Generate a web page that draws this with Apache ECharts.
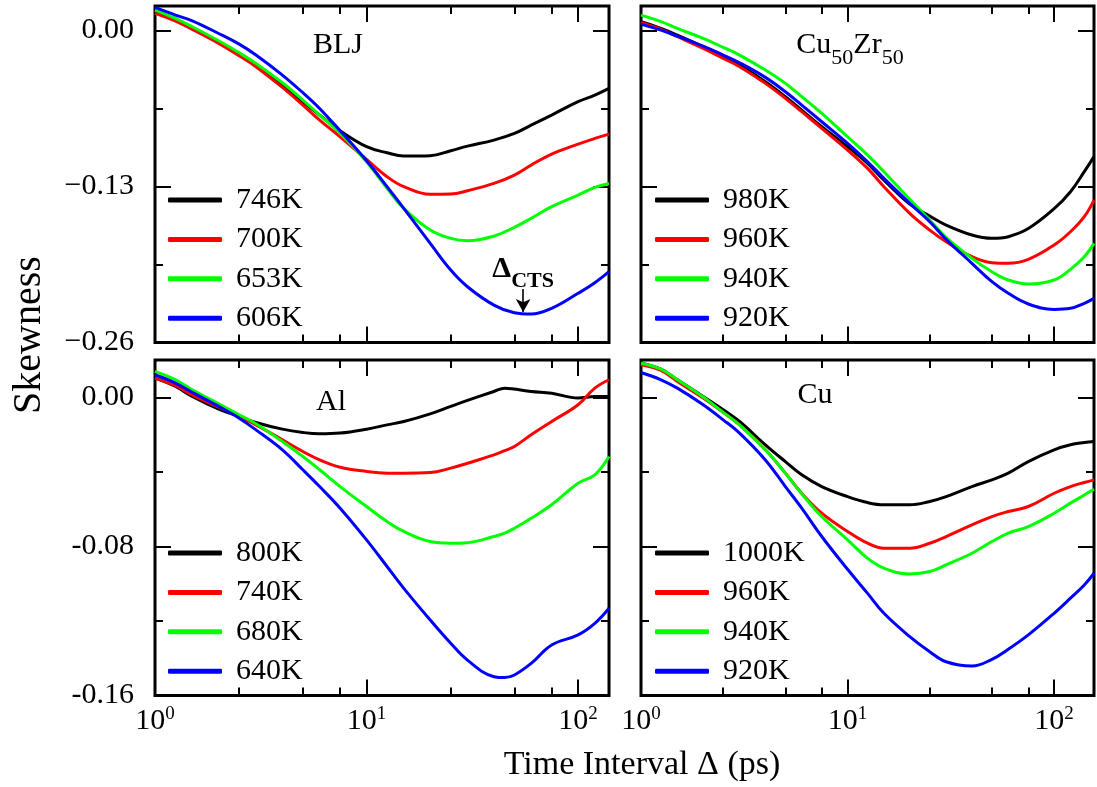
<!DOCTYPE html>
<html><head><meta charset="utf-8">
<script src="https://cdn.jsdelivr.net/npm/echarts@6/dist/echarts.min.js"></script>
<style>html,body{margin:0;padding:0;background:#fff}#c{width:1097px;height:787px}</style>
</head><body><div id="c"></div>
<script>
// ---------------- data ----------------
const tBLJ = [1,1.25,1.5,2,2.5,3,4,5,6,7.5,10,12.5,15,20,25,30,40,50,60,75,100,120,140];
const blj746 = [0.0154,0.0088,0.0026,-0.0093,-0.0196,-0.0288,-0.0454,-0.0593,-0.0704,-0.0835,-0.0968,-0.1018,-0.1046,-0.1043,-0.1001,-0.0963,-0.0913,-0.0857,-0.0788,-0.0704,-0.0593,-0.0538,-0.0482];
const blj700 = [0.0143,0.0079,0.0010,-0.0107,-0.0210,-0.0301,-0.0474,-0.0621,-0.0746,-0.0885,-0.1074,-0.1218,-0.1301,-0.1365,-0.1363,-0.1335,-0.1274,-0.1204,-0.1121,-0.1029,-0.0946,-0.0899,-0.0863];
const blj653 = [0.0171,0.0101,0.0032,-0.0085,-0.0185,-0.0274,-0.0435,-0.0579,-0.0704,-0.0857,-0.1093,-0.1315,-0.1482,-0.1663,-0.1732,-0.1752,-0.1713,-0.1640,-0.1565,-0.1468,-0.1371,-0.1307,-0.1274];
const blj606 = [0.0193,0.0129,0.0082,-0.0024,-0.0113,-0.0204,-0.0371,-0.0518,-0.0649,-0.0835,-0.1085,-0.1301,-0.1482,-0.1774,-0.1996,-0.2135,-0.2288,-0.2352,-0.2363,-0.2315,-0.2190,-0.2102,-0.2010];

const tCZ = [1,1.25,1.5,2,2.5,3,4,5,6,7.5,10,12.5,15,20,25,30,40,50,60,75,100,120,140,156];
const cz980 = [0.0074,0.0018,-0.0038,-0.0135,-0.0218,-0.0288,-0.0426,-0.0551,-0.0663,-0.0801,-0.0968,-0.1107,-0.1246,-0.1446,-0.1546,-0.1621,-0.1704,-0.1732,-0.1718,-0.1650,-0.1485,-0.1343,-0.1176,-0.1051];
const cz960 = [0.0065,0.0010,-0.0051,-0.0149,-0.0232,-0.0301,-0.0440,-0.0565,-0.0676,-0.0815,-0.0996,-0.1149,-0.1301,-0.1524,-0.1663,-0.1760,-0.1885,-0.1935,-0.1940,-0.1907,-0.1788,-0.1677,-0.1551,-0.1413];
const cz940 = [0.0129,0.0074,0.0018,-0.0065,-0.0140,-0.0204,-0.0329,-0.0440,-0.0551,-0.0690,-0.0885,-0.1038,-0.1176,-0.1407,-0.1579,-0.1724,-0.1899,-0.2010,-0.2079,-0.2113,-0.2079,-0.1990,-0.1885,-0.1774];
const cz920 = [0.0054,0.0004,-0.0046,-0.0129,-0.0204,-0.0268,-0.0390,-0.0510,-0.0621,-0.0760,-0.0940,-0.1093,-0.1232,-0.1440,-0.1593,-0.1740,-0.1940,-0.2093,-0.2190,-0.2279,-0.2324,-0.2315,-0.2273,-0.2232];

const tAl = [1,1.25,1.5,2,2.5,3,4,5,6,7.5,10,12.5,15,20,25,30,40,45,50,60,75,100,120,140];
const al800 = [0.0103,0.0058,0.0004,-0.0064,-0.0103,-0.0135,-0.0171,-0.0189,-0.0196,-0.0192,-0.0171,-0.0148,-0.0130,-0.0089,-0.0049,-0.0017,0.0031,0.0049,0.0044,0.0031,0.0022,-0.0004,0.0004,0.0004];
const al740 = [0.0103,0.0062,0.0013,-0.0053,-0.0103,-0.0148,-0.0228,-0.0291,-0.0336,-0.0375,-0.0398,-0.0407,-0.0407,-0.0404,-0.0380,-0.0354,-0.0309,-0.0286,-0.0264,-0.0201,-0.0130,-0.0040,0.0049,0.0094];
const al680 = [0.0139,0.0094,0.0040,-0.0035,-0.0094,-0.0142,-0.0237,-0.0318,-0.0389,-0.0479,-0.0586,-0.0667,-0.0720,-0.0774,-0.0783,-0.0780,-0.0747,-0.0729,-0.0703,-0.0649,-0.0577,-0.0461,-0.0416,-0.0318];
const al640 = [0.0121,0.0076,0.0026,-0.0049,-0.0112,-0.0175,-0.0282,-0.0389,-0.0479,-0.0595,-0.0765,-0.0908,-0.1025,-0.1195,-0.1320,-0.1410,-0.1499,-0.1504,-0.1490,-0.1428,-0.1329,-0.1275,-0.1213,-0.1132];

const tCu = [1,1.25,1.5,2,2.5,3,4,5,6,7.5,10,12.5,15,20,25,30,40,50,60,75,100,120,140,156];
const cu1000 = [0.0183,0.0151,0.0094,0.0004,-0.0067,-0.0130,-0.0255,-0.0345,-0.0416,-0.0479,-0.0533,-0.0565,-0.0577,-0.0577,-0.0559,-0.0533,-0.0479,-0.0443,-0.0407,-0.0345,-0.0282,-0.0255,-0.0243,-0.0237];
const cu960 = [0.0175,0.0144,0.0085,-0.0004,-0.0081,-0.0148,-0.0282,-0.0407,-0.0515,-0.0622,-0.0720,-0.0783,-0.0810,-0.0810,-0.0783,-0.0747,-0.0685,-0.0640,-0.0613,-0.0586,-0.0515,-0.0479,-0.0457,-0.0443];
const cu940 = [0.0183,0.0151,0.0094,0.0001,-0.0081,-0.0148,-0.0282,-0.0407,-0.0518,-0.0640,-0.0765,-0.0864,-0.0917,-0.0948,-0.0935,-0.0899,-0.0837,-0.0774,-0.0729,-0.0694,-0.0622,-0.0568,-0.0524,-0.0493];
const cu920 = [0.0133,0.0094,0.0049,-0.0040,-0.0121,-0.0192,-0.0336,-0.0479,-0.0595,-0.0747,-0.0923,-0.1052,-0.1159,-0.1284,-0.1365,-0.1419,-0.1442,-0.1406,-0.1352,-0.1275,-0.1159,-0.1078,-0.1007,-0.0944];

// tick values / labels
const yTicksTop = [-0.26,-0.13,0];
const yLabelsTop = ['\u22120.26','\u22120.13','0.00'];
const yMinorTop = [-0.195,-0.065];
const yTicksBot = [-0.16,-0.08,0];
const yLabelsBot = ['-0.16','-0.08','0.00'];
const yMinorBot = [-0.12,-0.04];
const xMajor = [1,10,100];
const xExp = ['0','1','2'];
const xMinor = [2.5,5,7.5,25,50,75];
const ctsT = 55;
const ctsY = [-0.2153,-0.2345];

// ---------------- layout / style ----------------
const FONT = '"Liberation Serif","Times New Roman",serif';
const COLORS = ['#000000','#ff0000','#00ff00','#0000ff'];
const colLeft = [155, 641], colWidth = [454, 453];
const rowTop = [6, 360], rowHeight = [336.5, 335.5];
const rowY = [[-0.26, 0.0205], [-0.16, 0.02]];
const legLeft = [168, 655], legTop = [185, 538];

const panels = [
  {t:tBLJ, names:['746K','700K','653K','606K'], ys:[blj746,blj700,blj653,blj606], xmax:140, row:0, col:0},
  {t:tCZ, names:['980K','960K','940K','920K'], ys:[cz980,cz960,cz940,cz920], xmax:156, row:0, col:1},
  {t:tAl, names:['800K','740K','680K','640K'], ys:[al800,al740,al680,al640], xmax:140, row:1, col:0},
  {t:tCu, names:['1000K','960K','940K','920K'], ys:[cu1000,cu960,cu940,cu920], xmax:156, row:1, col:1}
];

const tickLine = {color:'#000', width:2};
const noLine = {show:false, onZero:false};
const grid = [], xAxis = [], yAxis = [], series = [], legend = [];

panels.forEach((p, i) => {
  grid.push({left:colLeft[p.col], top:rowTop[p.row], width:colWidth[p.col], height:rowHeight[p.row],
    show:true, borderColor:'#000', borderWidth:3, backgroundColor:'transparent', containLabel:false, outerBoundsMode:'none'});
  const showX = p.row === 1, showY = p.col === 0;
  const yT = p.row === 0 ? yTicksTop : yTicksBot;
  const yL = p.row === 0 ? yLabelsTop : yLabelsBot;
  const yM = p.row === 0 ? yMinorTop : yMinorBot;
  const [ymin, ymax] = rowY[p.row];
  ['bottom','top'].forEach((pos, k) => {
    xAxis.push({type:'log', logBase:10, gridIndex:i, min:1, max:p.xmax, position:pos,
      axisLine:noLine, splitLine:{show:false}, minorTick:{show:false}, minorSplitLine:{show:false},
      axisTick:{show:true, inside:true, length:16, lineStyle:tickLine},
      axisLabel:{show: showX && k === 0, margin:9, showMaxLabel:false,
        formatter: v => {
          const e = Math.log10(v), r = Math.round(e);
          if (Math.abs(e - r) > 1e-6) return '';
          const idx = xMajor.indexOf(Math.pow(10, r));
          return idx < 0 ? '' : '{b|10}{p|' + xExp[idx] + '}';
        },
        rich:{
          b:{fontSize:30, lineHeight:30, fontFamily:FONT, color:'#000', padding:[2,0,0,0], verticalAlign:'top'},
          p:{fontSize:19, lineHeight:19, fontFamily:FONT, color:'#000', verticalAlign:'top'}
        }}
    });
  });
  ['bottom','top'].forEach(pos => {
    xAxis.push({type:'value', gridIndex:i, min:0, max:Math.log10(p.xmax), position:pos,
      axisLine:noLine, splitLine:{show:false}, axisLabel:{show:false},
      axisTick:{show:true, inside:true, length:8, lineStyle:tickLine, customValues:xMinor.map(v => Math.log10(v))}});
  });
  ['left','right'].forEach((pos, k) => {
    yAxis.push({type:'value', gridIndex:i, min:ymin, max:ymax, position:pos,
      axisLine:noLine, splitLine:{show:false},
      axisTick:{show:true, inside:true, length:16, lineStyle:tickLine, customValues:yT},
      axisLabel:{show: showY && k === 0, customValues:yT, margin:21, fontSize:30, fontFamily:FONT, color:'#000',
        formatter: v => { const j = yT.findIndex(u => Math.abs(u - v) < 1e-9); return j < 0 ? '' : yL[j]; }}
    });
  });
  ['left','right'].forEach(pos => {
    yAxis.push({type:'value', gridIndex:i, min:ymin, max:ymax, position:pos,
      axisLine:noLine, splitLine:{show:false}, axisLabel:{show:false},
      axisTick:{show:true, inside:true, length:8, lineStyle:tickLine, customValues:yM}});
  });
  p.names.forEach((nm, s) => {
    const ser = {type:'line', name:nm, xAxisIndex:4*i, yAxisIndex:4*i,
      data:p.t.map((x, k) => [x, p.ys[s][k]]),
      symbol:'none', showSymbol:false, smooth:0.4, clip:true,
      lineStyle:{color:COLORS[s], width:3}, itemStyle:{color:COLORS[s]}, z:2+s};
    if (i === 0 && s === 3) {
      ser.markLine = {silent:true, animation:false, symbol:['none','arrow'], symbolSize:[11,13],
        lineStyle:{color:'#000', width:1.6, type:'solid'},
        label:{show:true, position:'start', distance:5, formatter:'{d|\u0394}{c|CTS}',
          rich:{
            d:{fontSize:30, lineHeight:30, fontWeight:'bold', fontFamily:FONT, color:'#000', verticalAlign:'top'},
            c:{fontSize:22, lineHeight:22, fontWeight:'bold', fontFamily:FONT, color:'#000', verticalAlign:'top', padding:[16,0,0,0]}
          }},
        emphasis:{disabled:true},
        data:[[{coord:[ctsT, ctsY[0]]}, {coord:[ctsT, ctsY[1]]}]]};
    }
    series.push(ser);
  });
  legend.push({data:p.names, orient:'vertical', left:legLeft[p.col], top:legTop[p.row], padding:0,
    itemGap:9.4, itemWidth:54, itemHeight:5, icon:'roundRect', selectedMode:false,
    textStyle:{fontSize:30, lineHeight:30, fontFamily:FONT, color:'#000', padding:[0,0,0,9]}});
});

const rich2 = {
  b:{fontSize:30, lineHeight:30, fontFamily:FONT, fill:'#000', verticalAlign:'top'},
  s:{fontSize:22, lineHeight:22, fontFamily:FONT, fill:'#000', verticalAlign:'top', padding:[17,0,0,0]}
};
const graphic = [
  {type:'text', x:29, y:335, rotation:Math.PI/2, style:{text:'Skewness', fontSize:40, fontFamily:FONT, fill:'#000', align:'center', verticalAlign:'middle'}},
  {type:'text', x:642, y:765, style:{text:'Time Interval \u0394 (ps)', fontSize:34, fontFamily:FONT, fill:'#000', align:'center', verticalAlign:'middle'}},
  {type:'text', x:338, y:30, style:{text:'BLJ', fontSize:30, lineHeight:30, fontFamily:FONT, fill:'#000', align:'center', verticalAlign:'top'}},
  {type:'text', x:850, y:30, style:{text:'{b|Cu}{s|50}{b|Zr}{s|50}', rich:rich2, fontSize:30, fontFamily:FONT, fill:'#000', align:'center', verticalAlign:'top'}},
  {type:'text', x:331, y:387, style:{text:'Al', fontSize:30, lineHeight:30, fontFamily:FONT, fill:'#000', align:'center', verticalAlign:'top'}},
  {type:'text', x:815, y:380, style:{text:'Cu', fontSize:30, lineHeight:30, fontFamily:FONT, fill:'#000', align:'center', verticalAlign:'top'}}
];

const chart = echarts.init(document.getElementById('c'), null, {renderer:'canvas'});
chart.setOption({animation:false, backgroundColor:'#fff', grid, xAxis, yAxis, series, legend, graphic});
</script></body></html>
